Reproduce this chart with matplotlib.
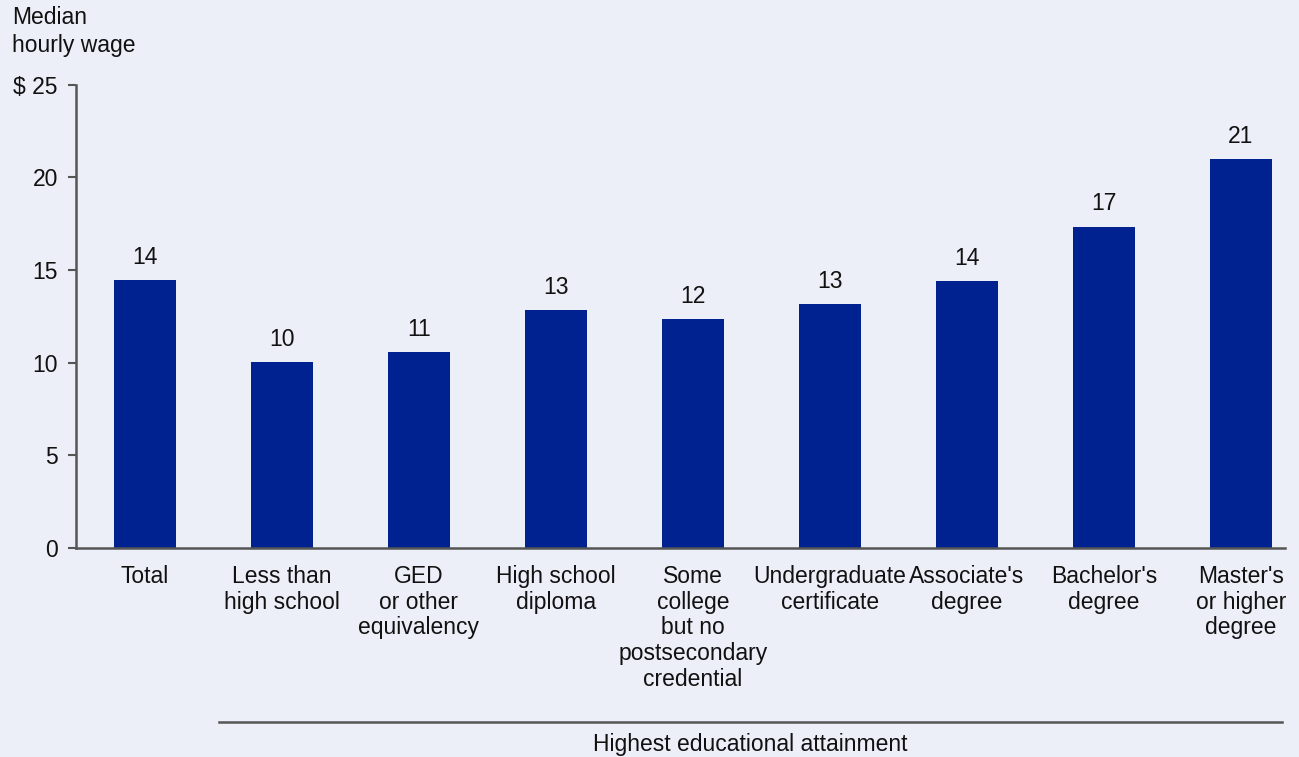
import numpy as np
import matplotlib
matplotlib.use("Agg")
from matplotlib import pyplot as plt

# data
categories = ["Total", "Less than\nhigh school", "GED\nor other\nequivalency",
              "High school\ndiploma", "Some\ncollege\nbut no\npostsecondary\ncredential",
              "Undergraduate\ncertificate", "Associate's\ndegree",
              "Bachelor's\ndegree", "Master's\nor higher\ndegree"]
wages = [14.45, 10.05, 10.6, 12.85, 12.35, 13.15, 14.4, 17.35, 21.0]
wage_labels = ["14", "10", "11", "13", "12", "13", "14", "17", "21"]
yticks = [0, 5, 10, 15, 20, 25]
ytick_labels = ["0", "5", "10", "15", "20", "$ 25"]

bg = "#ECEEF8"
bar_col = "#002291"
txt_col = "#111111"
fs = 16.5
plt.rcParams['font.family'] = ['Liberation Sans', 'DejaVu Sans']

fig = plt.figure(figsize=(12.99, 7.57), dpi=100, facecolor=bg)
ax = fig.add_axes([0.0585, 0.276, 0.9305, 0.612])
ax.set_facecolor(bg)

x = np.arange(len(categories))
ax.bar(x, wages, width=0.45, color=bar_col, zorder=2)
for xi, w, lab in zip(x, wages, wage_labels):
    ax.text(xi, w + 0.6, lab, ha='center', va='bottom', fontsize=fs, color=txt_col)

ax.set_xlim(-0.504, 8.32)
ax.set_ylim(0, 25)
ax.set_yticks(yticks)
ax.set_yticklabels(ytick_labels, fontsize=fs, color=txt_col)
ax.set_xticks(x)
ax.set_xticklabels(categories, fontsize=fs, color=txt_col, linespacing=1.16)
ax.tick_params(axis='x', length=0, pad=12)
ax.tick_params(axis='y', length=6, width=1.5, color="#555555", pad=7)

for s in ['top', 'right']:
    ax.spines[s].set_visible(False)
for s in ['left', 'bottom']:
    ax.spines[s].set_color("#555555")
    ax.spines[s].set_linewidth(1.8)

fig.text(0.009, 0.958, "Median\nhourly wage", ha='left', va='center', fontsize=fs,
         color=txt_col, linespacing=1.3)

# group bracket line and caption
fig.add_artist(plt.Line2D([219 / 1299, 1282 / 1299], [1 - 722 / 757, 1 - 722 / 757],
                          color="#555555", lw=1.8))
fig.text(750 / 1299, 1 - 745 / 757, "Highest educational attainment", ha='center',
         va='center', fontsize=fs, color=txt_col)

fig.savefig("out.png", dpi=100, facecolor=bg)
